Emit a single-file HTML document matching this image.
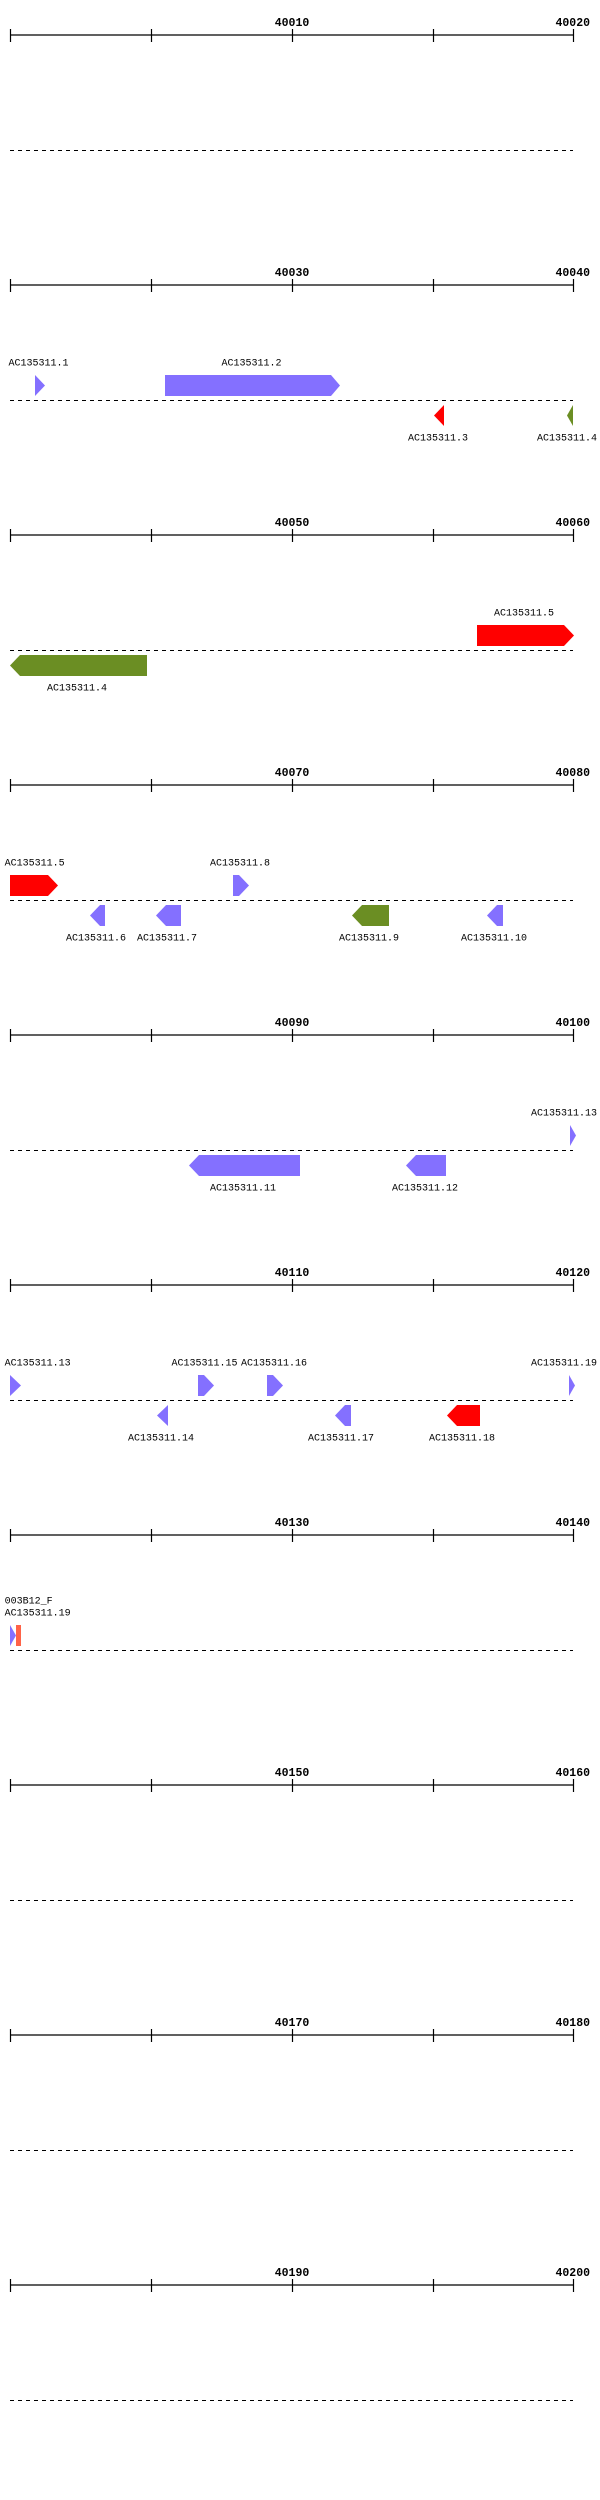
<!DOCTYPE html>
<html><head><meta charset="utf-8"><style>
html,body{margin:0;padding:0;background:#fff;}
svg{display:block;}
.r{font-family:"Liberation Mono",monospace;font-size:11.5px;font-weight:bold;fill:#000;}
.l{font-family:"Liberation Mono",monospace;font-size:10px;fill:#000;}
.ax{stroke:#000;stroke-width:1.2;}
.d{stroke:#000;stroke-width:1;stroke-dasharray:4,4;}
.b{fill:#8470ff}.rd{fill:#ff0000}.g{fill:#6b8e23}
</style></head><body>
<svg width="600" height="2500" viewBox="0 0 600 2500" xmlns="http://www.w3.org/2000/svg">
<g id="rulers">
<g transform="translate(0,0)"><line class="ax" x1="10" y1="35" x2="573" y2="35"/><line class="ax" x1="10.5" y1="29" x2="10.5" y2="42"/><line class="ax" x1="151.5" y1="29" x2="151.5" y2="42"/><line class="ax" x1="292.5" y1="29" x2="292.5" y2="42"/><line class="ax" x1="433.5" y1="29" x2="433.5" y2="42"/><line class="ax" x1="573.5" y1="29" x2="573.5" y2="42"/><text class="r" x="292" y="26" text-anchor="middle">40010</text><text class="r" x="590" y="26" text-anchor="end">40020</text><line class="d" x1="10" y1="150.5" x2="573" y2="150.5"/></g>
<g transform="translate(0,250)"><line class="ax" x1="10" y1="35" x2="573" y2="35"/><line class="ax" x1="10.5" y1="29" x2="10.5" y2="42"/><line class="ax" x1="151.5" y1="29" x2="151.5" y2="42"/><line class="ax" x1="292.5" y1="29" x2="292.5" y2="42"/><line class="ax" x1="433.5" y1="29" x2="433.5" y2="42"/><line class="ax" x1="573.5" y1="29" x2="573.5" y2="42"/><text class="r" x="292" y="26" text-anchor="middle">40030</text><text class="r" x="590" y="26" text-anchor="end">40040</text><line class="d" x1="10" y1="150.5" x2="573" y2="150.5"/></g>
<g transform="translate(0,500)"><line class="ax" x1="10" y1="35" x2="573" y2="35"/><line class="ax" x1="10.5" y1="29" x2="10.5" y2="42"/><line class="ax" x1="151.5" y1="29" x2="151.5" y2="42"/><line class="ax" x1="292.5" y1="29" x2="292.5" y2="42"/><line class="ax" x1="433.5" y1="29" x2="433.5" y2="42"/><line class="ax" x1="573.5" y1="29" x2="573.5" y2="42"/><text class="r" x="292" y="26" text-anchor="middle">40050</text><text class="r" x="590" y="26" text-anchor="end">40060</text><line class="d" x1="10" y1="150.5" x2="573" y2="150.5"/></g>
<g transform="translate(0,750)"><line class="ax" x1="10" y1="35" x2="573" y2="35"/><line class="ax" x1="10.5" y1="29" x2="10.5" y2="42"/><line class="ax" x1="151.5" y1="29" x2="151.5" y2="42"/><line class="ax" x1="292.5" y1="29" x2="292.5" y2="42"/><line class="ax" x1="433.5" y1="29" x2="433.5" y2="42"/><line class="ax" x1="573.5" y1="29" x2="573.5" y2="42"/><text class="r" x="292" y="26" text-anchor="middle">40070</text><text class="r" x="590" y="26" text-anchor="end">40080</text><line class="d" x1="10" y1="150.5" x2="573" y2="150.5"/></g>
<g transform="translate(0,1000)"><line class="ax" x1="10" y1="35" x2="573" y2="35"/><line class="ax" x1="10.5" y1="29" x2="10.5" y2="42"/><line class="ax" x1="151.5" y1="29" x2="151.5" y2="42"/><line class="ax" x1="292.5" y1="29" x2="292.5" y2="42"/><line class="ax" x1="433.5" y1="29" x2="433.5" y2="42"/><line class="ax" x1="573.5" y1="29" x2="573.5" y2="42"/><text class="r" x="292" y="26" text-anchor="middle">40090</text><text class="r" x="590" y="26" text-anchor="end">40100</text><line class="d" x1="10" y1="150.5" x2="573" y2="150.5"/></g>
<g transform="translate(0,1250)"><line class="ax" x1="10" y1="35" x2="573" y2="35"/><line class="ax" x1="10.5" y1="29" x2="10.5" y2="42"/><line class="ax" x1="151.5" y1="29" x2="151.5" y2="42"/><line class="ax" x1="292.5" y1="29" x2="292.5" y2="42"/><line class="ax" x1="433.5" y1="29" x2="433.5" y2="42"/><line class="ax" x1="573.5" y1="29" x2="573.5" y2="42"/><text class="r" x="292" y="26" text-anchor="middle">40110</text><text class="r" x="590" y="26" text-anchor="end">40120</text><line class="d" x1="10" y1="150.5" x2="573" y2="150.5"/></g>
<g transform="translate(0,1500)"><line class="ax" x1="10" y1="35" x2="573" y2="35"/><line class="ax" x1="10.5" y1="29" x2="10.5" y2="42"/><line class="ax" x1="151.5" y1="29" x2="151.5" y2="42"/><line class="ax" x1="292.5" y1="29" x2="292.5" y2="42"/><line class="ax" x1="433.5" y1="29" x2="433.5" y2="42"/><line class="ax" x1="573.5" y1="29" x2="573.5" y2="42"/><text class="r" x="292" y="26" text-anchor="middle">40130</text><text class="r" x="590" y="26" text-anchor="end">40140</text><line class="d" x1="10" y1="150.5" x2="573" y2="150.5"/></g>
<g transform="translate(0,1750)"><line class="ax" x1="10" y1="35" x2="573" y2="35"/><line class="ax" x1="10.5" y1="29" x2="10.5" y2="42"/><line class="ax" x1="151.5" y1="29" x2="151.5" y2="42"/><line class="ax" x1="292.5" y1="29" x2="292.5" y2="42"/><line class="ax" x1="433.5" y1="29" x2="433.5" y2="42"/><line class="ax" x1="573.5" y1="29" x2="573.5" y2="42"/><text class="r" x="292" y="26" text-anchor="middle">40150</text><text class="r" x="590" y="26" text-anchor="end">40160</text><line class="d" x1="10" y1="150.5" x2="573" y2="150.5"/></g>
<g transform="translate(0,2000)"><line class="ax" x1="10" y1="35" x2="573" y2="35"/><line class="ax" x1="10.5" y1="29" x2="10.5" y2="42"/><line class="ax" x1="151.5" y1="29" x2="151.5" y2="42"/><line class="ax" x1="292.5" y1="29" x2="292.5" y2="42"/><line class="ax" x1="433.5" y1="29" x2="433.5" y2="42"/><line class="ax" x1="573.5" y1="29" x2="573.5" y2="42"/><text class="r" x="292" y="26" text-anchor="middle">40170</text><text class="r" x="590" y="26" text-anchor="end">40180</text><line class="d" x1="10" y1="150.5" x2="573" y2="150.5"/></g>
<g transform="translate(0,2250)"><line class="ax" x1="10" y1="35" x2="573" y2="35"/><line class="ax" x1="10.5" y1="29" x2="10.5" y2="42"/><line class="ax" x1="151.5" y1="29" x2="151.5" y2="42"/><line class="ax" x1="292.5" y1="29" x2="292.5" y2="42"/><line class="ax" x1="433.5" y1="29" x2="433.5" y2="42"/><line class="ax" x1="573.5" y1="29" x2="573.5" y2="42"/><text class="r" x="292" y="26" text-anchor="middle">40190</text><text class="r" x="590" y="26" text-anchor="end">40200</text><line class="d" x1="10" y1="150.5" x2="573" y2="150.5"/></g>
</g>

<!-- row 1 -->
<polygon class="b" points="35,375 45,385.5 35,396"/>
<polygon class="b" points="165,375 331,375 340,385.5 331,396 165,396"/>
<polygon class="rd" points="434,415.5 444,405 444,426"/>
<polygon class="g" points="567,415.5 573,405 573,426"/>
<text class="l" x="8.5" y="365.5">AC135311.1</text>
<text class="l" x="221.5" y="365.5">AC135311.2</text>
<text class="l" x="408" y="440.5">AC135311.3</text>
<text class="l" x="537" y="440.5">AC135311.4</text>

<!-- row 2 -->
<polygon class="rd" points="477,625 564,625 574,635.5 564,646 477,646"/>
<polygon class="g" points="10,665.5 20,655 147,655 147,676 20,676"/>
<text class="l" x="494" y="615.5">AC135311.5</text>
<text class="l" x="47" y="690.5">AC135311.4</text>

<!-- row 3 -->
<polygon class="rd" points="10,875 48,875 58,885.5 48,896 10,896"/>
<polygon class="b" points="233,875 239,875 249,885.5 239,896 233,896"/>
<polygon class="b" points="90,915.5 100,905 105,905 105,926 100,926"/>
<polygon class="b" points="156,915.5 166,905 181,905 181,926 166,926"/>
<polygon class="g" points="352,915.5 362,905 389,905 389,926 362,926"/>
<polygon class="b" points="487,915.5 497,905 503,905 503,926 497,926"/>
<text class="l" x="4.6" y="865.5">AC135311.5</text>
<text class="l" x="210" y="865.5">AC135311.8</text>
<text class="l" x="66" y="940.5">AC135311.6</text>
<text class="l" x="137" y="940.5">AC135311.7</text>
<text class="l" x="339" y="940.5">AC135311.9</text>
<text class="l" x="461" y="940.5">AC135311.10</text>

<!-- row 4 -->
<polygon class="b" points="570,1125 576,1135.5 570,1146"/>
<polygon class="b" points="189,1165.5 199,1155 300,1155 300,1176 199,1176"/>
<polygon class="b" points="406,1165.5 416,1155 446,1155 446,1176 416,1176"/>
<text class="l" x="531" y="1115.5">AC135311.13</text>
<text class="l" x="210" y="1190.5">AC135311.11</text>
<text class="l" x="392" y="1190.5">AC135311.12</text>

<!-- row 5 -->
<polygon class="b" points="10,1375 21,1385.5 10,1396"/>
<polygon class="b" points="198,1375 204,1375 214,1385.5 204,1396 198,1396"/>
<polygon class="b" points="267,1375 273,1375 283,1385.5 273,1396 267,1396"/>
<polygon class="b" points="569,1375 575,1385.5 569,1396"/>
<polygon class="b" points="157,1415.5 168,1405 168,1426"/>
<polygon class="b" points="335,1415.5 345,1405 351,1405 351,1426 345,1426"/>
<polygon class="rd" points="447,1415.5 457,1405 480,1405 480,1426 457,1426"/>
<text class="l" x="4.6" y="1365.5">AC135311.13</text>
<text class="l" x="171.5" y="1365.5">AC135311.15</text>
<text class="l" x="241" y="1365.5">AC135311.16</text>
<text class="l" x="531" y="1365.5">AC135311.19</text>
<text class="l" x="128" y="1440.5">AC135311.14</text>
<text class="l" x="308" y="1440.5">AC135311.17</text>
<text class="l" x="429" y="1440.5">AC135311.18</text>

<!-- row 6 -->
<polygon class="b" points="10,1625 16,1635.5 10,1646"/>
<rect x="16" y="1625" width="5" height="21" fill="#ff6347"/>
<text class="l" x="4.6" y="1603.5">003B12_F</text>
<text class="l" x="4.6" y="1615.5">AC135311.19</text>
</svg>
</body></html>
